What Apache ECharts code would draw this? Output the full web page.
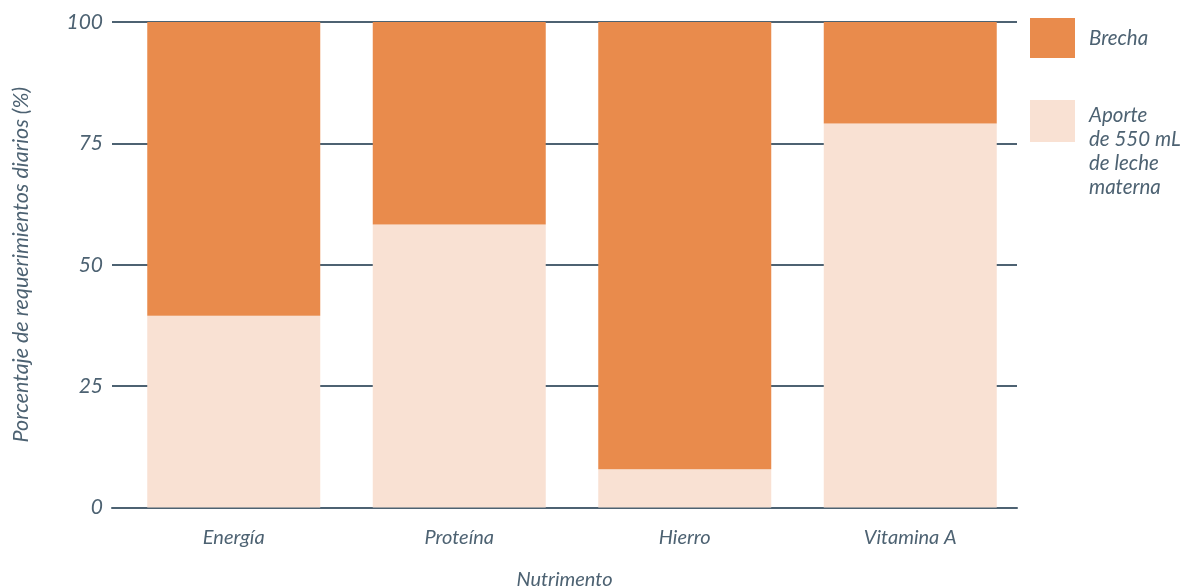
<!DOCTYPE html>
<html>
<head>
<meta charset="utf-8">
<script src="https://cdn.jsdelivr.net/npm/echarts@6/dist/echarts.min.js"></script>
<style>
  html, body { margin: 0; padding: 0; background: #fff; }
  #chart1 { width: 1186px; height: 587px; }
</style>
</head>
<body>
<div id="chart1"></div>
<script>
// 数据
var categories = ['Energía', 'Proteína', 'Hierro', 'Vitamina A'];
var aporte = [39.5, 58.3, 7.9, 79.1];
var brecha = [60.5, 41.7, 92.1, 20.9];
var yTicks = [0, 25, 50, 75, 100];

var nombreAporte = 'Aporte\nde 550 mL\nde leche\nmaterna';
var nombreBrecha = 'Brecha';

// 颜色
var naranja = '#e98b4c';
var rosa = '#f9e1d3';
var pizarra = '#4d6272';
var fuente = 'Lato';

function texto(size) {
    return { color: pizarra, fontSize: size, fontStyle: 'italic', fontFamily: fuente };
}

var chart1 = echarts.init(document.getElementById('chart1'));

// grid 0: líneas y etiquetas del eje Y; grid 1: barras (un poco desplazadas a la derecha)
var option = {
    animation: false,
    textStyle: { fontFamily: fuente },
    grid: [
        { left: 112, right: 169, top: 22, bottom: 79.5, outerBoundsMode: 'none' },
        { left: 121, right: 163, top: 22, bottom: 79.5, outerBoundsMode: 'none' }
    ],
    legend: [
        {
            data: [nombreBrecha],
            orient: 'vertical',
            left: 1030,
            top: 18,
            padding: 0,
            itemWidth: 45,
            itemHeight: 40,
            icon: 'rect',
            selectedMode: false,
            textStyle: Object.assign(texto(20.5), { padding: [0, 0, 0, 9] })
        },
        {
            data: [nombreAporte],
            orient: 'vertical',
            left: 1030,
            top: 43,
            padding: 0,
            itemWidth: 45,
            itemHeight: 42,
            icon: 'rect',
            selectedMode: false,
            // línea vacía arriba para alinear el texto con el borde superior del cuadro
            formatter: function (name) { return '{g| }\n' + name; },
            textStyle: Object.assign(texto(20.5), {
                lineHeight: 24,
                padding: [0, 0, 0, 9],
                rich: { g: { fontSize: 2, lineHeight: 60 } }
            })
        }
    ],
    xAxis: [
        {
            gridIndex: 0,
            type: 'category',
            data: categories,
            name: 'Nutrimento',
            nameLocation: 'middle',
            nameGap: 62,
            nameTextStyle: texto(20),
            axisLine: { lineStyle: { color: pizarra, width: 2 } },
            axisTick: { show: false },
            axisLabel: { show: false }
        },
        {
            gridIndex: 1,
            type: 'category',
            data: categories,
            axisLine: { show: false },
            axisTick: { show: false },
            axisLabel: Object.assign(texto(20), { margin: 20 })
        }
    ],
    yAxis: [
        {
            gridIndex: 0,
            type: 'value',
            min: yTicks[0],
            max: yTicks[yTicks.length - 1],
            interval: 25,
            name: 'Porcentaje de requerimientos diarios (%)',
            nameLocation: 'middle',
            nameGap: 80,
            nameTextStyle: texto(21.5),
            axisLine: { show: false },
            axisTick: { show: false },
            axisLabel: Object.assign(texto(21), { margin: 9 }),
            splitLine: { lineStyle: { color: pizarra, width: 2 } }
        },
        {
            gridIndex: 1,
            type: 'value',
            min: yTicks[0],
            max: yTicks[yTicks.length - 1],
            interval: 25,
            show: false
        }
    ],
    series: [
        {
            name: nombreAporte,
            type: 'bar',
            xAxisIndex: 1,
            yAxisIndex: 1,
            stack: 'total',
            barWidth: 173,
            itemStyle: { color: rosa },
            data: aporte
        },
        {
            name: nombreBrecha,
            type: 'bar',
            xAxisIndex: 1,
            yAxisIndex: 1,
            stack: 'total',
            barWidth: 173,
            itemStyle: { color: naranja },
            data: brecha
        }
    ]
};

chart1.setOption(option);
</script>
</body>
</html>
